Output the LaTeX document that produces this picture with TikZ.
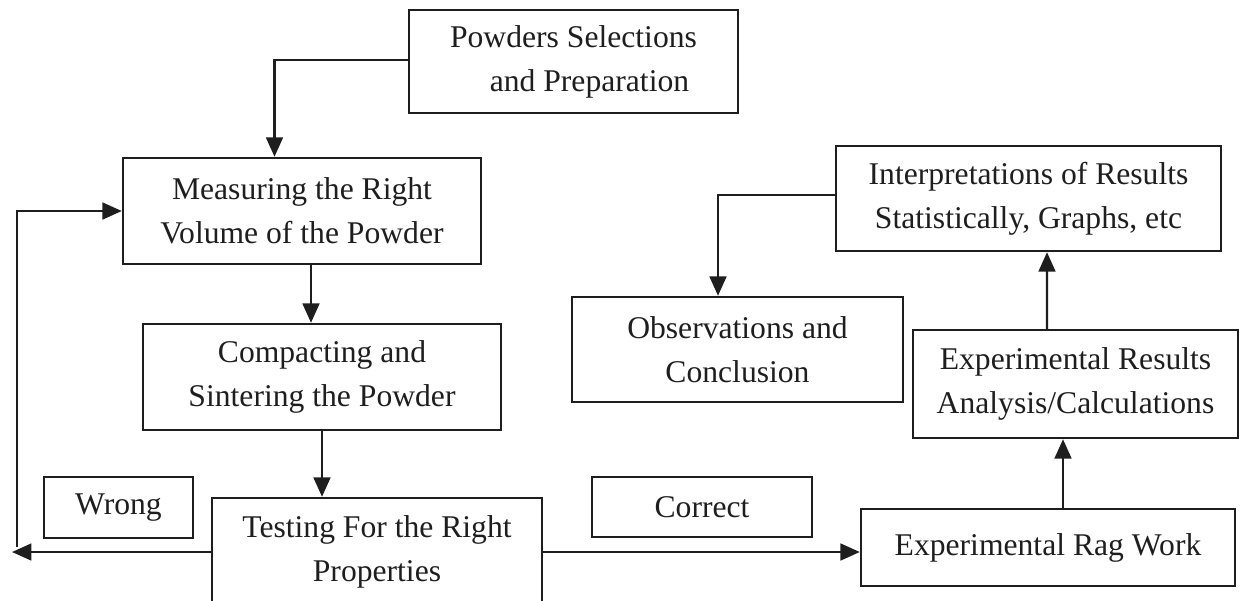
\documentclass[tikz,border=0pt]{standalone}
\usepackage{fontspec}
\setmainfont{Liberation Serif}
\usetikzlibrary{arrows.meta,calc}
\definecolor{ink}{HTML}{1E1E1E}

\begin{document}
\begin{tikzpicture}[x=0.02cm,y=-0.02cm,>={Triangle[length=11pt,width=9.5pt]},
    box/.style={draw=ink,line width=1.4pt,align=center,inner sep=0pt,text=ink,font=\fontsize{18}{25}\selectfont},
    link/.style={->,draw=ink,line width=1.4pt}]
  \useasboundingbox (0,0) rectangle (1243,600);
  % left column
  \node[box,minimum width=6.58cm,minimum height=2.06cm] (prep) at (573.5,61.5) {Powders Selections\\\hspace*{0.64cm}and Preparation};
  \node[box,minimum width=7.16cm,minimum height=2.12cm] (measure) at (302,211) {Measuring the Right\\Volume of the Powder};
  \node[box,minimum width=7.16cm,minimum height=2.12cm] (compact) at (322,377) {Compacting and\\Sintering the Powder};
  \node[box,minimum width=6.60cm,minimum height=2.16cm] (test) at (377,552) {Testing For the Right\\Properties};
  \node[box,minimum width=2.98cm,minimum height=1.22cm] (wrong) at (118.5,507.5) {Wrong};
  \node[box,minimum width=4.40cm,minimum height=1.20cm] (correct) at (702,507) {Correct};
  % right column
  \node[box,minimum width=7.48cm,minimum height=1.54cm] (rag) at (1048,547.5) {Experimental Rag Work};
  \node[box,minimum width=6.50cm,minimum height=2.16cm] (results) at (1075.5,384) {Experimental Results\\Analysis/Calculations};
  \node[box,minimum width=7.70cm,minimum height=2.10cm] (interp) at (1028.5,198.5) {Interpretations of Results\\Statistically, Graphs, etc};
  \node[box,minimum width=6.62cm,minimum height=2.10cm] (observ) at (737.5,349.5) {Observations and\\Conclusion};

  \coordinate (backtip) at (12,552);
  \coordinate (backfoot) at (17,547);

  \draw[link] ($(prep.west)+(0,-1.5)$) -| ($(measure.north)+(-27.5,0)$);
  \draw[link] ($(measure.south)+(9,0)$) -- ($(compact.north)+(-11,0)$);
  \draw[link] (compact.south) -- (test.north -| compact.south);
  \draw[link] (test.west) -- (backtip);
  \draw[link] (backfoot) |- (measure.west);
  \draw[link] (test.east) -- (test.east -| rag.west);
  \draw[link] ($(rag.north)+(15,0)$) -- ($(results.south)+(-12.5,0)$);
  \draw[link] ($(results.north)+(-28.5,0)$) -- ($(interp.south)+(18.5,0)$);
  \draw[link] ($(interp.west)+(0,-3.5)$) -| ($(observ.north)+(-19.5,0)$);
\end{tikzpicture}
\end{document}
